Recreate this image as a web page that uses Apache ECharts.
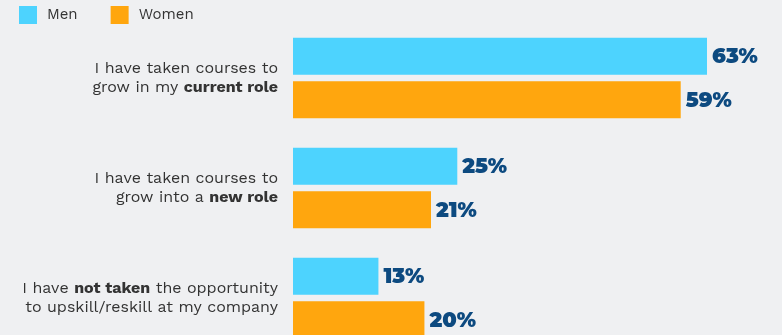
<!DOCTYPE html>
<html>
<head>
<meta charset="utf-8">
<script src="https://cdn.jsdelivr.net/npm/echarts@6/dist/echarts.min.js"></script>
<style>
  html, body { margin: 0; padding: 0; background: #eff0f2; }
  #chart { width: 782px; height: 335px; }
</style>
</head>
<body>
<div id="chart"></div>
<script>
// Survey statements; {b|...} marks the bold part of each statement
const categories = [
  'I have taken courses to\ngrow in my {b|current role}',
  'I have taken courses to\ngrow into a {b|new role}',
  'I have {b|not taken} the opportunity\nto upskill/reskill at my company'
];
const seriesNames = ['Men', 'Women'];
const menValues = [63, 25, 13];
const womenValues = [59, 21, 20];

const FONT = '"Work Sans", "Open Sans", sans-serif';
const LABEL_FONT = 'Montserrat, Inter, "Open Sans", sans-serif';

const chart = echarts.init(document.getElementById('chart'));

// Tag plain text segments so every line gets the regular style
function markLabel(text) {
  return text.split('\n').map(function (line) {
    return line.split(/(\{b\|[^}]*\})/).filter(Boolean).map(function (part) {
      return part.startsWith('{b|') ? part : '{n|' + part + '}';
    }).join('');
  }).join('\n');
}

const valueLabel = {
  show: true,
  position: 'right',
  distance: 5,
  offset: [0, 1],
  formatter: '{c}%',
  color: '#0d4a80',
  fontFamily: LABEL_FONT,
  fontWeight: 900,
  fontSize: 21
};

chart.setOption({
  backgroundColor: '#eff0f2',
  animation: false,
  legend: {
    data: seriesNames,
    left: 19,
    top: 6,
    padding: 0,
    itemWidth: 18,
    itemHeight: 18,
    itemGap: 33,
    icon: 'rect',
    textStyle: { fontFamily: FONT, fontSize: 15, color: '#333333', padding: [0, 0, 0, 5] }
  },
  grid: {
    left: 293, top: 23, height: 330, right: 29,
    containLabel: false,
    outerBoundsMode: 'none'
  },
  xAxis: {
    type: 'value',
    min: 0,
    max: 70,
    show: false
  },
  yAxis: {
    type: 'category',
    inverse: true,
    data: categories,
    axisLine: { show: false },
    axisTick: { show: false },
    splitLine: { show: false },
    axisLabel: {
      margin: 15,
      align: 'right',
      formatter: markLabel,
      rich: {
        n: { fontFamily: FONT, fontSize: 16, color: '#333333', lineHeight: 19 },
        b: { fontFamily: FONT, fontSize: 16, fontWeight: 'bold', color: '#333333', lineHeight: 19 }
      }
    }
  },
  series: [
    {
      name: 'Men',
      type: 'bar',
      data: menValues,
      barWidth: 37,
      barGap: '18%',
      itemStyle: { color: '#4dd3fe' },
      label: valueLabel
    },
    {
      name: 'Women',
      type: 'bar',
      data: womenValues,
      barWidth: 37,
      barGap: '18%',
      itemStyle: { color: '#ffa60e' },
      label: valueLabel
    }
  ]
});
</script>
</body>
</html>
